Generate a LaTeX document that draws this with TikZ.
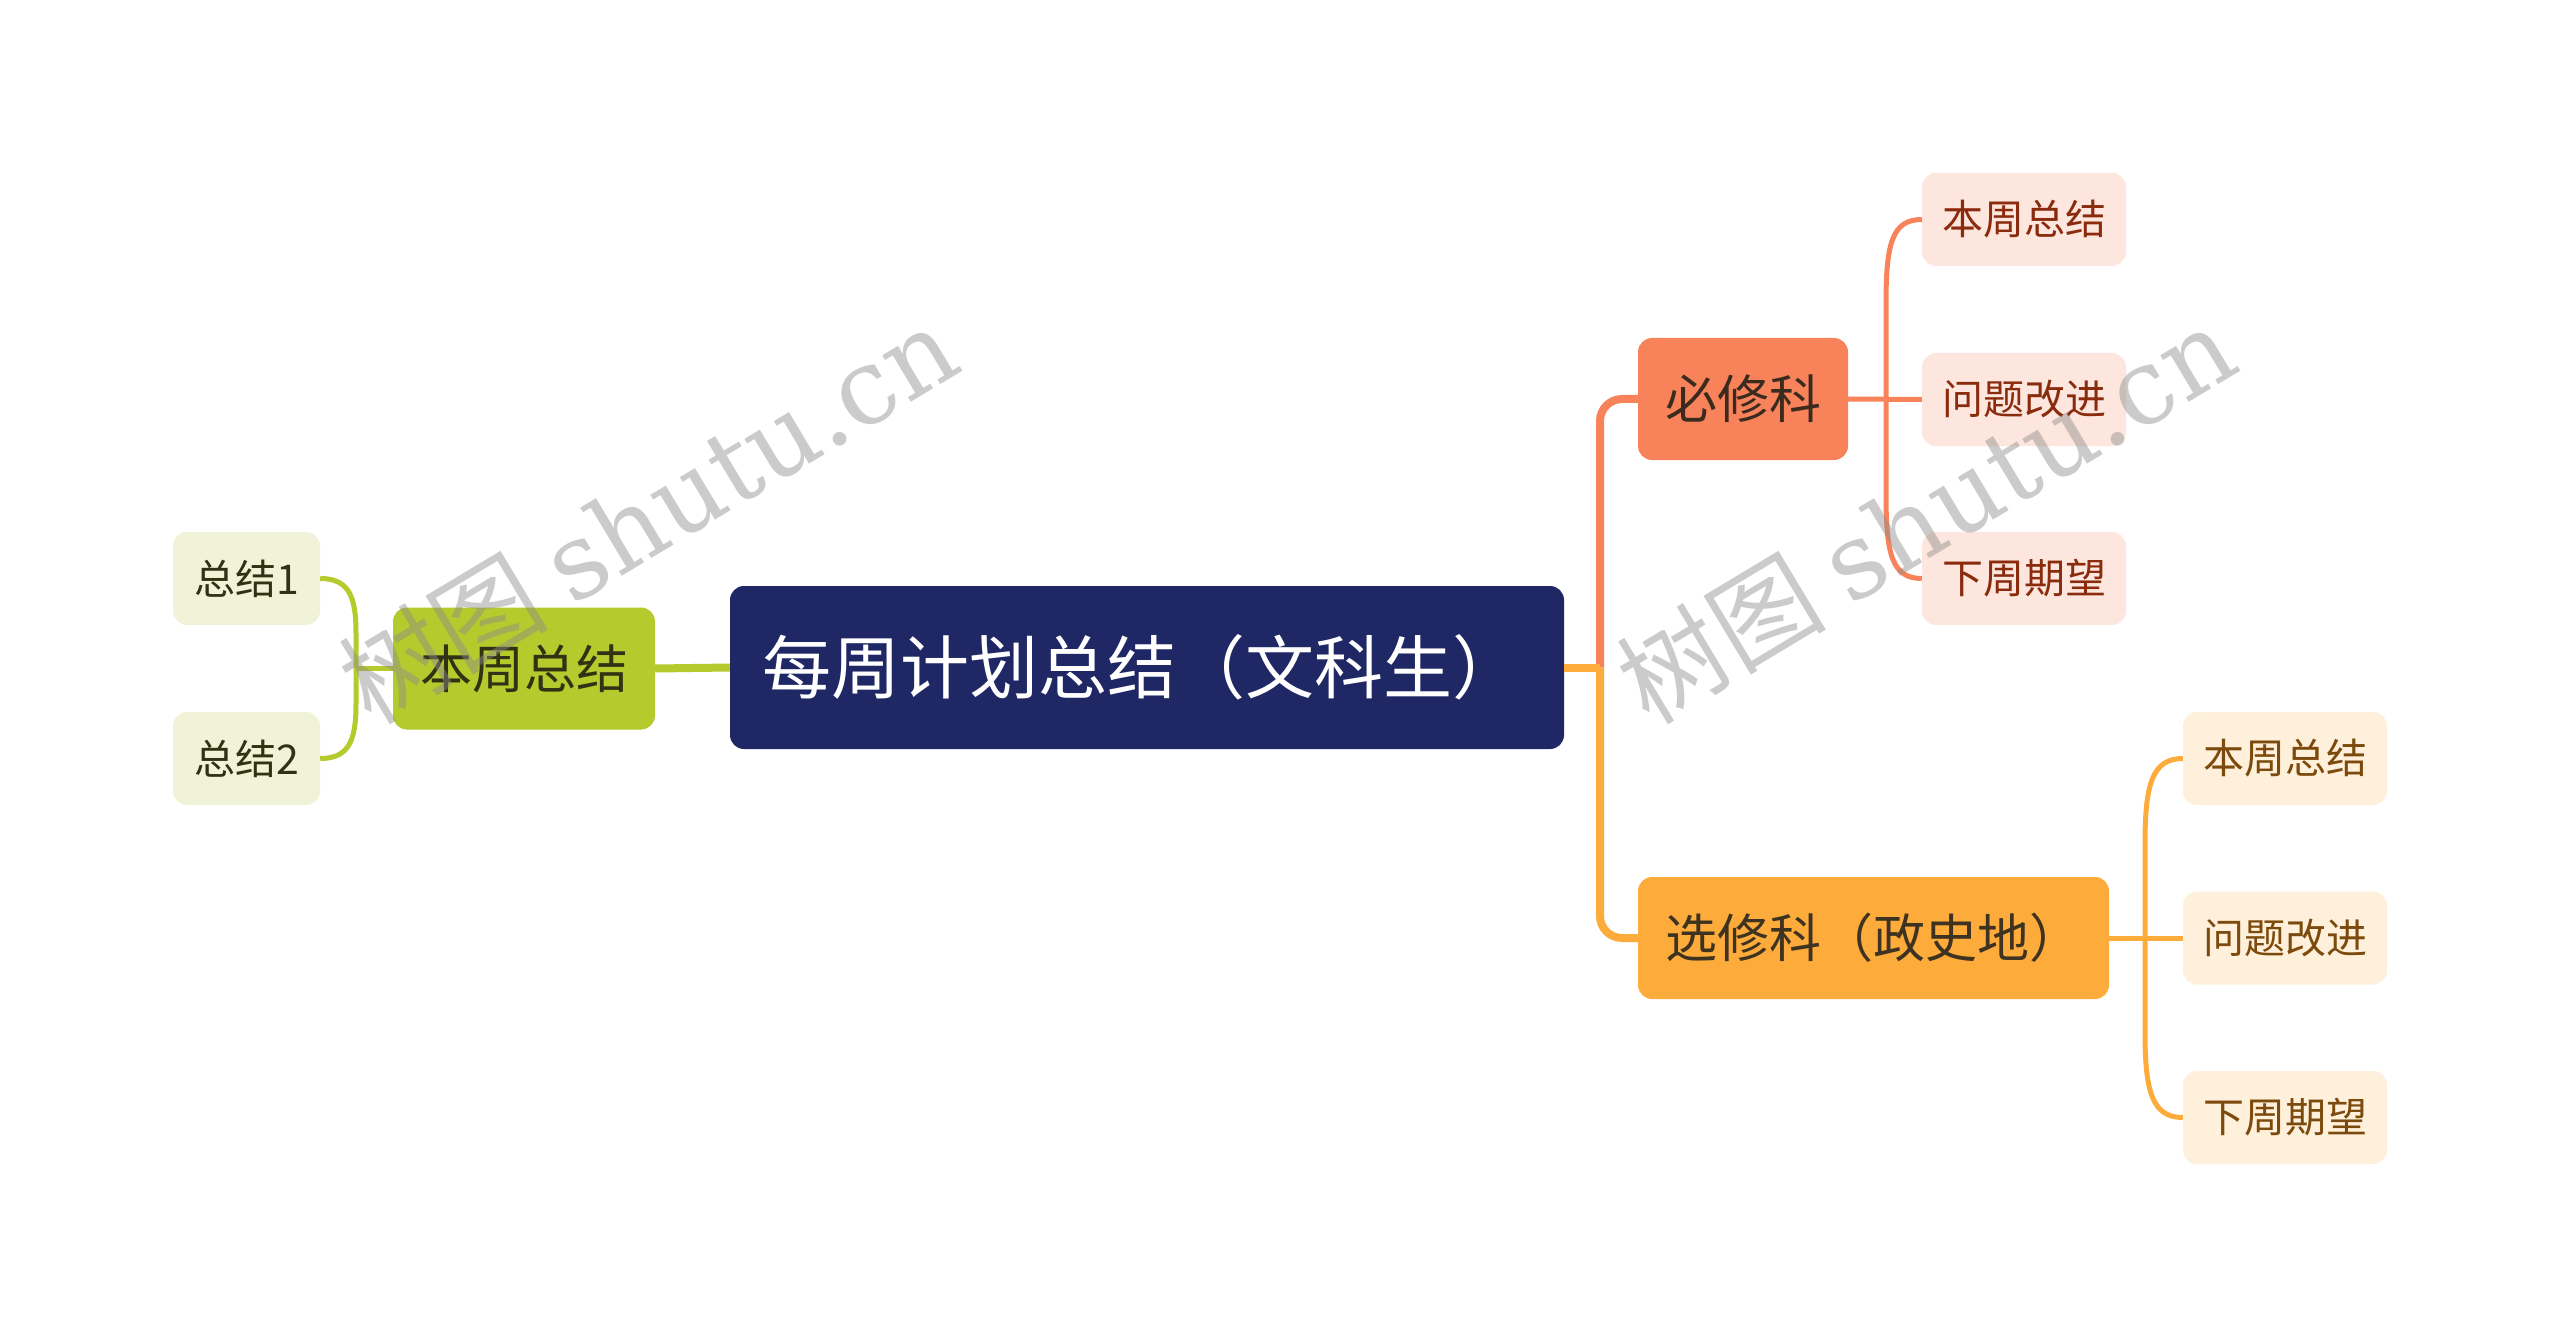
\documentclass[tikz,border=0pt]{standalone}
\usepackage{fontspec}
\setmainfont{Noto Sans CJK SC}
\newfontfamily\wmlatin{DejaVu Serif}
\newfontfamily\wmcjk{Noto Sans CJK SC}
\usetikzlibrary{calc}
\definecolor{navy}{HTML}{1F2865}
\definecolor{lime}{HTML}{B5CA2C}
\definecolor{limelight}{HTML}{F0F3D7}
\definecolor{limetext}{HTML}{2F3314}
\definecolor{org}{HTML}{F8835A}
\definecolor{orglight}{HTML}{FDE6DD}
\definecolor{orgtext}{HTML}{8A2B0E}
\definecolor{orgdark}{HTML}{3B2A1E}
\definecolor{yel}{HTML}{FDAB3B}
\definecolor{yellight}{HTML}{FEF0DA}
\definecolor{yeltext}{HTML}{7B4A0C}
\definecolor{yeldark}{HTML}{3D3320}
\tikzset{
  rootbox/.style={rounded corners=14, fill=navy, text=white, minimum height=163,
    text width=770, align=left, inner xsep=32, inner ysep=0,
    font=\fontsize{69}{72}\selectfont},
  lvone/.style={rounded corners=14, minimum height=122, inner sep=0,
    font=\fontsize{52}{56}\selectfont},
  lvtwo/.style={rounded corners=14, minimum height=93, minimum width=204, inner sep=0,
    font=\fontsize{41}{44}\selectfont},
  thick branch/.style={line width=8},
  thin branch/.style={line width=5},
  wm/.style={rotate=31, text=black!45, text opacity=0.45, inner sep=0,
    font=\fontsize{105}{110}\selectfont}
}
\begin{document}
\begin{tikzpicture}[x=1pt,y=-1pt]
\useasboundingbox (0,0) rectangle (2560,1337);
\fill[white] (0,0) rectangle (2560,1337);

% nodes
\node[rootbox] (root) at (1147,667.5) {每周计划总结（文科生）};

\node[lvone, fill=lime, text=limetext, minimum width=262] (bz) at (524,668.5) {本周总结};
\node[lvtwo, fill=limelight, text=limetext, minimum width=147] (c1) at (246.5,578.5) {总结1};
\node[lvtwo, fill=limelight, text=limetext, minimum width=147] (c2) at (246.5,758.5) {总结2};

\node[lvone, fill=org, text=orgdark, minimum width=210] (bx) at (1743,399) {必修科};
\node[lvtwo, fill=orglight, text=orgtext] (b1) at (2024,219.5) {本周总结};
\node[lvtwo, fill=orglight, text=orgtext] (b2) at (2024,399.5) {问题改进};
\node[lvtwo, fill=orglight, text=orgtext] (b3) at (2024,578.5) {下周期望};

\node[lvone, fill=yel, text=yeldark, minimum width=471] (xx) at (1873.5,938) {选修科（政史地）};
\node[lvtwo, fill=yellight, text=yeltext] (x1) at (2285,758.5) {本周总结};
\node[lvtwo, fill=yellight, text=yeltext] (x2) at (2285,938) {问题改进};
\node[lvtwo, fill=yellight, text=yeltext] (x3) at (2285,1117.5) {下周期望};

% junction coordinates
\coordinate (jl) at (356,668.5);
\coordinate (tr) at (1600,667.5);
\coordinate (jb) at (1886,399);
\coordinate (jx) at (2145,938);

% left side
\draw[lime, thick branch] (root.west) -- (bz.east);
\draw[lime, thin branch] (bz.west) -- (jl);
\draw[lime, thin branch] (c1.east) .. controls +(30,0) and +(0,-35) .. ($(jl)+(0,-35)$)
  -- ($(jl)+(0,35)$) .. controls +(0,35) and +(30,0) .. (c2.east);

% right trunk
\draw[org, thick branch, rounded corners=22] (tr) |- (bx.west);
\draw[yel, thick branch, rounded corners=22] (tr) |- (xx.west);
\draw[yel, thick branch] (root.east) -- (tr);

% required subjects
\draw[org, thin branch] (bx.east) -- (b2.west);
\draw[org, thin branch] (b1.west) .. controls +(-30,0) and +(0,-60) .. ($(jb)+(0,-95)$)
  -- ($(jb)+(0,95)$) .. controls +(0,60) and +(-30,0) .. (b3.west);

% elective subjects
\draw[yel, thin branch] (xx.east) -- (x2.west);
\draw[yel, thin branch] (x1.west) .. controls +(-30,0) and +(0,-60) .. ($(jx)+(0,-95)$)
  -- ($(jx)+(0,95)$) .. controls +(0,60) and +(-30,0) .. (x3.west);

% watermarks
\node[wm] (wm1) at (648,514) {{\wmcjk 树图} {\wmlatin shutu.cn}};
\node[wm] (wm2) at (1926,514) {{\wmcjk 树图} {\wmlatin shutu.cn}};
\end{tikzpicture}
\end{document}
